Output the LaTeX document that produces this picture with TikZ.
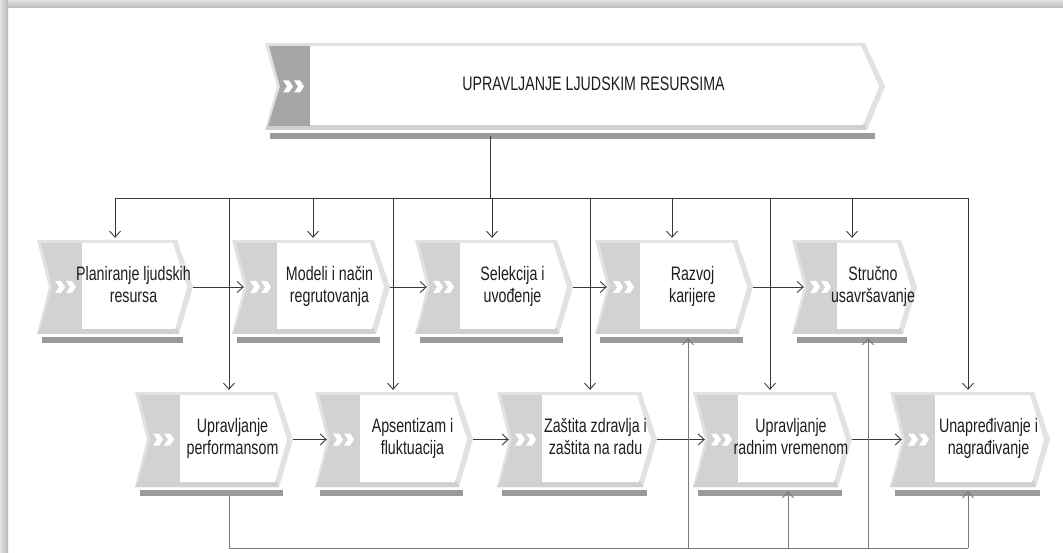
\documentclass[tikz,border=0pt]{standalone}
\usepackage{fontspec}
\setmainfont{Liberation Sans}
\usetikzlibrary{arrows.meta,calc}
\definecolor{bevel}{HTML}{E2E2E2}
\definecolor{bevelD}{HTML}{D0D0D0}
\definecolor{panel}{HTML}{D2D2D2}
\definecolor{panelD}{HTML}{A6A6A6}
\definecolor{sbar}{HTML}{9A9A9A}
\definecolor{lineC}{HTML}{3A3A3A}
\definecolor{lineL}{HTML}{7A7A7A}
\definecolor{txt}{HTML}{1E1E1E}
\newcommand\ftext[1]{\scalebox{0.73}[1]{\fontsize{19.5}{22}\selectfont\begin{tabular}{@{}c@{}}#1\end{tabular}}}
\tikzset{
  ln/.style={draw=lineC, line width=0.9pt},
  arr/.style={ln, -{Straight Barb[length=6pt,width=11pt]}},
  ln2/.style={draw=lineL, line width=0.9pt},
  arr2/.style={ln2, -{Straight Barb[length=6pt,width=11pt]}},
  area/.style={draw=none, inner sep=0pt, rectangle},
  fntext/.style={inner sep=0pt, text=txt}
}
% #1 name, #2 L, #3 T, #4 R, #5 B, #6 text, #7 panel colour, #8 tip depth
\newcommand\funcbox[8]{%
  \pgfmathsetmacro\fL{#2}%
  \pgfmathsetmacro\fT{#3}%
  \pgfmathsetmacro\fR{#4}%
  \pgfmathsetmacro\fB{#5}%
  \pgfmathsetmacro\fM{(#3+#5)/2}%
  \pgfmathsetmacro\fX{#4-#8}%
  \fill[sbar] (\fL+5,\fB+3) rectangle (\fR-10,\fB+9);
  \fill[bevel] (\fL,\fT) -- (\fX,\fT) -- (\fR,\fM) -- (\fX+2,\fB) -- (\fL,\fB) -- (\fL+12,\fM) -- cycle;
  \fill[bevelD] (\fL+4,\fB-7) -- (\fX-1,\fB-7) -- (\fX+2,\fB) -- (\fL,\fB) -- cycle;
  \fill[#7] (\fL+4,\fT+3) -- (\fL+45,\fT+3) -- (\fL+45,\fB-4) -- (\fL+3,\fB-4) -- (\fL+15,\fM) -- cycle;
  \fill[white] (\fL+45,\fT+3) -- (\fX-4,\fT+3) -- (\fR-6,\fM) -- (\fX-2,\fB-5) -- (\fL+45,\fB-5) -- cycle;
  \foreach \c in {18,29} {\fill[white] (\fL+\c,\fM-6) -- (\fL+\c+6,\fM-6) -- (\fL+\c+10,\fM) -- (\fL+\c+6,\fM+6) -- (\fL+\c,\fM+6) -- (\fL+\c+4,\fM) -- cycle;}
  \node[area, minimum width={#4-#2-12}, minimum height={#5-#3}] (#1) at ({(#2+12+#4)/2},\fM) {};
  \node[fntext] (#1-t) at ({(#2+45+#4-8)/2},\fM) {\ftext{#6}};
}
\begin{document}
\begin{tikzpicture}[x=1pt, y=-1pt]
\useasboundingbox (0,0) rectangle (1063,553);
\fill[white] (0,0) rectangle (1063,553);
\shade[top color=gray!22, bottom color=gray!55] (0,0) rectangle (1063,8);
\shade[left color=gray!22, right color=gray!55] (0,0) rectangle (8,553);

% boxes
\funcbox{hr}{265}{43}{885}{130}{UPRAVLJANJE LJUDSKIM RESURSIMA}{panelD}{20}
\funcbox{plan}{37}{240}{193}{334}{Planiranje ljudskih\\resursa}{panel}{16}
\funcbox{model}{232}{240}{390}{334}{Modeli i način\\regrutovanja}{panel}{16}
\funcbox{sel}{415}{240}{573}{334}{Selekcija i\\uvođenje}{panel}{16}
\funcbox{razvoj}{595}{240}{753}{334}{Razvoj\\karijere}{panel}{16}
\funcbox{struc}{792}{240}{917}{334}{Stručno\\usavršavanje}{panel}{16}
\funcbox{perf}{135}{392}{293}{487}{Upravljanje\\performansom}{panel}{16}
\funcbox{aps}{315}{392}{473}{487}{Apsentizam i\\fluktuacija}{panel}{16}
\funcbox{zast}{497}{392}{657}{487}{Zaštita zdravlja i\\zaštita na radu}{panel}{16}
\funcbox{radno}{693}{392}{852}{487}{Upravljanje\\radnim vremenom}{panel}{16}
\funcbox{nagr}{890}{392}{1050}{487}{Unapređivanje i\\nagrađivanje}{panel}{16}

% top bus
\coordinate (b0) at (490,198);
\coordinate (bL) at (115,198);
\coordinate (bR) at (968,198);
\coordinate (d1) at (313,198);
\coordinate (d2) at (492,198);
\coordinate (d3) at (672,198);
\coordinate (d4) at (852,198);
\coordinate (e0) at (229,198);
\coordinate (e1) at (393,198);
\coordinate (e2) at (590,198);
\coordinate (e3) at (770,198);
\draw[ln] ($(hr.south -| b0)+(0,6)$) -- (b0);
\draw[ln] (bL) -- (bR);
\draw[arr] (bL) -- ($(bL |- plan.north)+(0,-2)$);
\draw[arr] (d1) -- ($(d1 |- model.north)+(0,-2)$);
\draw[arr] (d2) -- ($(d2 |- sel.north)+(0,-2)$);
\draw[arr] (d3) -- ($(d3 |- razvoj.north)+(0,-2)$);
\draw[arr] (d4) -- ($(d4 |- struc.north)+(0,-2)$);
\draw[arr] (e0) -- ($(e0 |- perf.north)+(0,-2)$);
\draw[arr] (e1) -- ($(e1 |- aps.north)+(0,-2)$);
\draw[arr] (e2) -- ($(e2 |- zast.north)+(0,-2)$);
\draw[arr] (e3) -- ($(e3 |- radno.north)+(0,-2)$);
\draw[arr] (bR) -- ($(bR |- nagr.north)+(0,-2)$);

% row arrows
\draw[arr] (plan.east) -- (model.west);
\draw[arr] (model.east) -- (sel.west);
\draw[arr] (sel.east) -- (razvoj.west);
\draw[arr] (razvoj.east) -- (struc.west);
\draw[arr] (perf.east) -- (aps.west);
\draw[arr] (aps.east) -- (zast.west);
\draw[arr] (zast.east) -- (radno.west);
\draw[arr] (radno.east) -- (nagr.west);

% bottom bus
\coordinate (c0) at (229,548);
\coordinate (c1) at (688,548);
\coordinate (c2) at (788,548);
\coordinate (c3) at (868,548);
\coordinate (c4) at (968,548);
\draw[ln2] ($(perf.south -| c0)+(0,9)$) -- (c0) -- (c4);
\draw[arr2] (c1) -- ($(c1 |- razvoj.south)+(0,4)$);
\draw[arr2] (c2) -- ($(c2 |- radno.south)+(0,4)$);
\draw[arr2] (c3) -- ($(c3 |- struc.south)+(0,4)$);
\draw[arr2] (c4) -- ($(c4 |- nagr.south)+(0,4)$);
\end{tikzpicture}
\end{document}
